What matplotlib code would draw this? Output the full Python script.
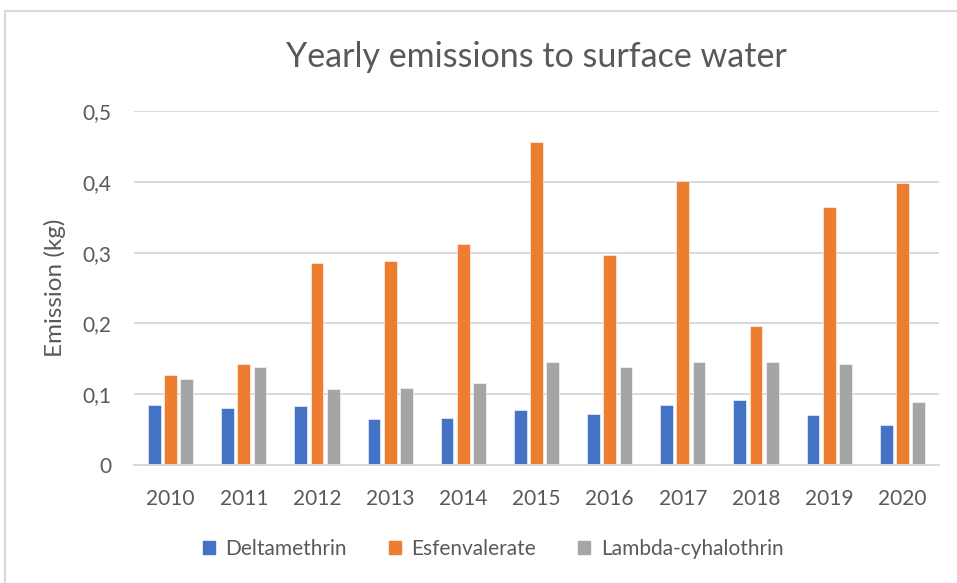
import matplotlib
matplotlib.use("Agg")
import matplotlib.pyplot as plt
import numpy as np
from matplotlib.lines import Line2D

years = ["2010", "2011", "2012", "2013", "2014", "2015", "2016", "2017", "2018", "2019", "2020"]
deltamethrin = [0.085, 0.080, 0.084, 0.065, 0.067, 0.078, 0.072, 0.085, 0.092, 0.071, 0.056]
esfenvalerate = [0.127, 0.143, 0.286, 0.288, 0.312, 0.456, 0.296, 0.401, 0.197, 0.364, 0.399]
lambda_cyh = [0.121, 0.138, 0.107, 0.109, 0.116, 0.146, 0.139, 0.146, 0.146, 0.143, 0.089]
series_names = ["Deltamethrin", "Esfenvalerate", "Lambda-cyhalothrin"]
colors = ["#4472C4", "#ED7D31", "#A5A5A5"]
yticks = [0, 0.1, 0.2, 0.3, 0.4, 0.5]
ytick_labels = ["0", "0,1", "0,2", "0,3", "0,4", "0,5"]

plt.rcParams['font.family'] = ['Lato', 'DejaVu Sans']
txt = "#595959"
grid = "#D9D9D9"

W, H = 957, 583
fig = plt.figure(figsize=(W / 100, H / 100), dpi=100)
ax = fig.add_axes([134 / W, 1 - 465 / H, (939 - 134) / W, (465 - 111) / H])

x = np.arange(len(years))
w = 0.1745
step = w * 1.27
for i, (vals, name, c) in enumerate(zip([deltamethrin, esfenvalerate, lambda_cyh], series_names, colors)):
    ax.bar(x + (i - 1) * step, vals, width=w, color=c, label=name, zorder=3,
           edgecolor="white", linewidth=0.4)

ax.set_xlim(-0.5, len(years) - 0.5)
ax.set_ylim(0, 0.5)
ax.set_yticks(yticks)
ax.set_yticklabels(ytick_labels)
ax.set_xticks(x)
ax.set_xticklabels(years)
ax.tick_params(axis="both", length=0, labelsize=15, colors=txt)
ax.tick_params(axis="y", pad=16)
ax.tick_params(axis="x", pad=17)
ax.yaxis.grid(True, color=grid, linewidth=1.4, zorder=0)
for s in ["top", "right", "left"]:
    ax.spines[s].set_visible(False)
ax.spines["bottom"].set_color(grid)
ax.spines["bottom"].set_linewidth(1.4)
ax.spines["bottom"].set_zorder(4)

ax.set_ylabel("Emission (kg)", fontsize=17.5, color=txt)
ax.yaxis.set_label_coords(-0.085, 0.5)

fig.text(536 / W, 1 - 57 / H, "Yearly emissions to surface water", ha="center", va="center",
         fontsize=24.5, color=txt)

handles = [plt.Rectangle((0, 0), 1, 1, color=c) for c in colors]
leg = fig.legend(handles, series_names, loc="center", bbox_to_anchor=(493 / W, 1 - 549 / H),
                 ncol=3, frameon=False, fontsize=15, handlelength=0.6, handleheight=0.6,
                 handletextpad=0.5, columnspacing=2.0, labelcolor=txt)

# chart border (top and left visible)
fig.add_artist(Line2D([5 / W, 1], [1 - 11 / H, 1 - 11 / H], transform=fig.transFigure, color="#D9D9D9", linewidth=1.5))
fig.add_artist(Line2D([5 / W, 5 / W], [1 - 11 / H, 0], transform=fig.transFigure, color="#D9D9D9", linewidth=1.5))

fig.savefig("out.png", dpi=100)
